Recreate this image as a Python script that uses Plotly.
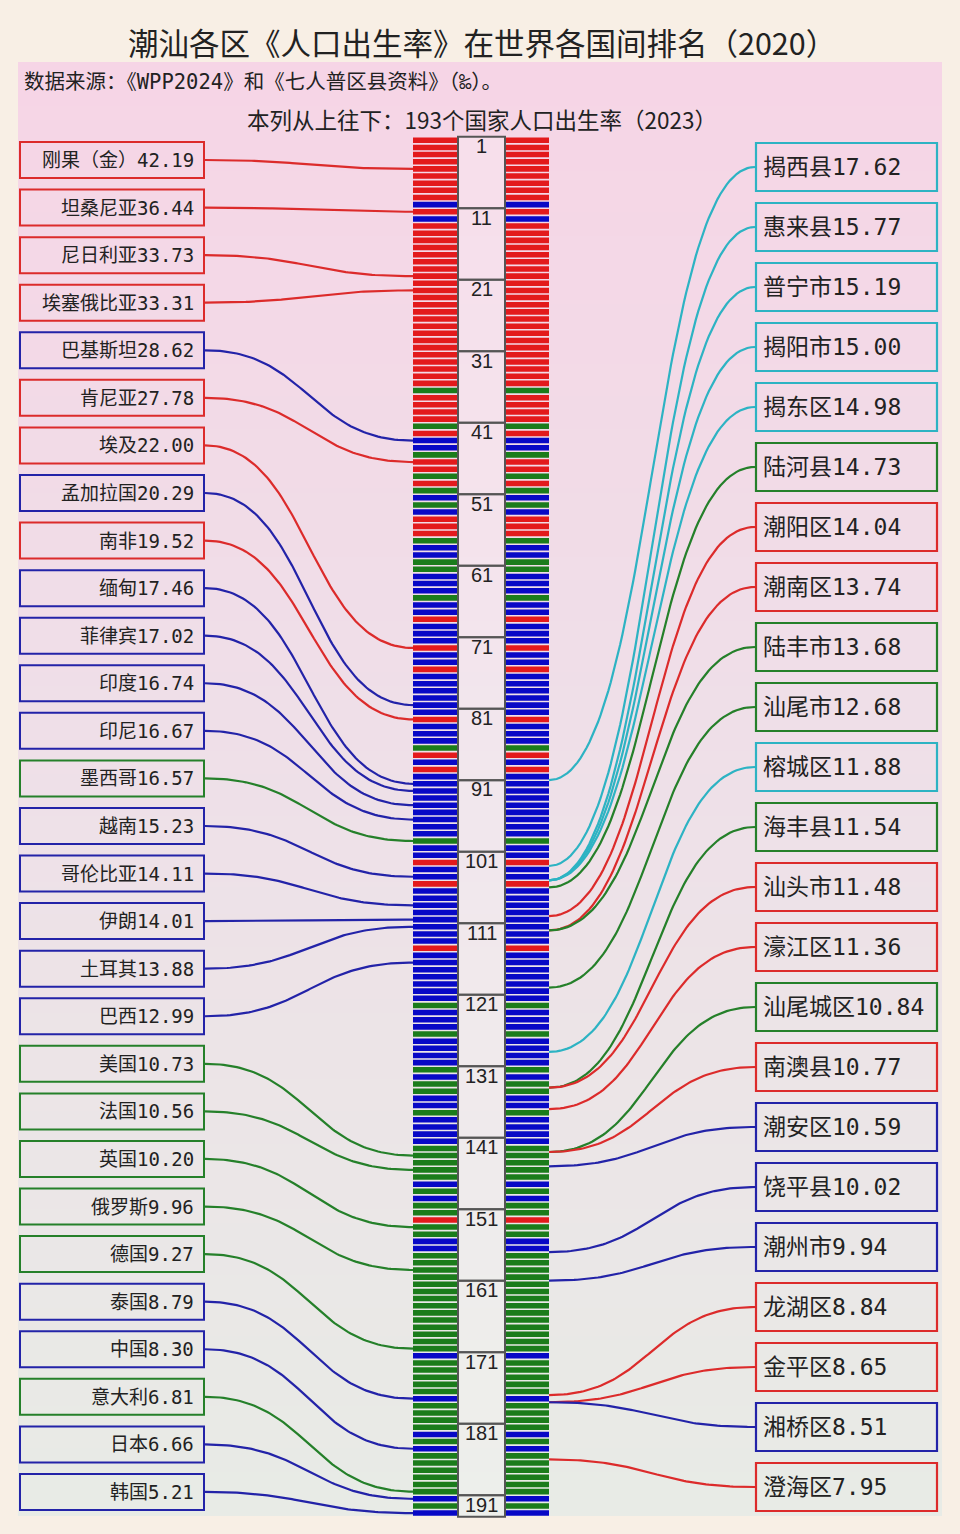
import numpy as np
import plotly.graph_objects as go

# ---------------- data ----------------
title_text = "潮汕各区《人口出生率》在世界各国间排名（2020）"
source_text = "数据来源：《WPP2024》和《七人普区县资料》（‰）。"
column_text = "本列从上往下：193个国家人口出生率（2023）"

countries = ["刚果（金）", "坦桑尼亚", "尼日利亚", "埃塞俄比亚", "巴基斯坦", "肯尼亚", "埃及",
             "孟加拉国", "南非", "缅甸", "菲律宾", "印度", "印尼", "墨西哥", "越南", "哥伦比亚",
             "伊朗", "土耳其", "巴西", "美国", "法国", "英国", "俄罗斯", "德国", "泰国", "中国",
             "意大利", "日本", "韩国"]
country_rates = [42.19, 36.44, 33.73, 33.31, 28.62, 27.78, 22.00, 20.29, 19.52, 17.46, 17.02,
                 16.74, 16.67, 16.57, 15.23, 14.11, 14.01, 13.88, 12.99, 10.73, 10.56, 10.20,
                 9.96, 9.27, 8.79, 8.30, 6.81, 6.66, 5.21]
country_ranks = [5, 11, 20, 22, 43, 46, 72, 80, 82, 91, 92, 94, 96, 99, 104, 108, 110, 111, 116,
                 143, 145, 153, 159, 170, 177, 184, 190, 191, 193]

districts = ["揭西县", "惠来县", "普宁市", "揭阳市", "揭东区", "陆河县", "潮阳区", "潮南区", "陆丰市",
             "汕尾市", "榕城区", "海丰县", "汕头市", "濠江区", "汕尾城区", "南澳县", "潮安区", "饶平县",
             "潮州市", "龙湖区", "金平区", "湘桥区", "澄海区"]
district_rates = [17.62, 15.77, 15.19, 15.00, 14.98, 14.73, 14.04, 13.74, 13.68, 12.68, 11.88,
                  11.54, 11.48, 11.36, 10.84, 10.77, 10.59, 10.02, 9.94, 8.84, 8.65, 8.51, 7.95]
# rank position among the 193 countries (line points to the top edge of this rank)
district_ranks = [91, 103, 105, 105, 105, 106, 110, 112, 112, 120, 129, 134, 134, 137, 143, 143,
                  145, 157, 161, 177, 178, 178, 186]
district_cities = ["揭阳", "揭阳", "揭阳", "揭阳", "揭阳", "汕尾", "汕头", "汕头", "汕尾", "汕尾", "揭阳",
                   "汕尾", "汕头", "汕头", "汕尾", "汕头", "潮州", "潮州", "潮州", "汕头", "汕头", "潮州", "汕头"]

# colour group of each of the 193 ranked countries (R / B / G), ranks 1..193
stripe_groups = ("RRRRRRRRRB" "RBRRRRRRRR" "RRRRRRRRRR" "RRRRRGRRRR" "GRBBGRRGRG"
                 "BGBRRRGBBG" "GBBBGBBRBB" "BRBBRBBBBB" "BRBBBGRBRB" "BBBBBBBBGB"
                 "BRBBRBBBBB" "BBBRBBBBBB" "BGBBBGBBBB" "GBGGBBGBBB" "BGGGGGBGBG"
                 "GRGGBBGGGG" "GGGGGGGGGG" "BGGGGGBGGG" "GBGBGGGGGG" "BGB")
rank_ticks = list(range(1, 194, 10))

# ---------------- styles ----------------
STRIPE = {"R": "#e31a1c", "B": "#0808c6", "G": "#1b7c1b"}
LINE = {"R": "#dc2b2b", "B": "#2323a8", "G": "#25802a"}
CITY = {"揭阳": "#2db3c3", "汕尾": "#25802a", "汕头": "#dc2b2b", "潮州": "#2323a8"}
LABEL_FONT = "DejaVu Sans Mono, Noto Sans CJK SC"
CJK_FONT = "Noto Sans CJK SC"

Y0, PX = 136.7, 7.15          # pixel of rank-boundary 0 and pixels per rank


def pos(px):
    return (px - Y0) / PX


def bezier(x0, y0, x1, y1, k=0.5, n=80):
    t = np.linspace(0, 1, n)
    dx = x1 - x0
    cx0, cx1 = x0 + k * dx, x1 - k * dx
    x = (1 - t) ** 3 * x0 + 3 * (1 - t) ** 2 * t * cx0 + 3 * (1 - t) * t ** 2 * cx1 + t ** 3 * x1
    y = (1 - t) ** 3 * y0 + 3 * (1 - t) ** 2 * t * y0 + 3 * (1 - t) * t ** 2 * y1 + t ** 3 * y1
    return x, y


fig = go.Figure()

# background panel with vertical gradient (heatmap sits below bars)
ptop, pbot = pos(62), pos(1516)
nb = 60
y_edges = np.linspace(ptop, pbot, nb + 1)
grad = np.linspace(0, 1, nb)
fig.add_trace(go.Heatmap(
    z=np.column_stack([grad, grad]), x=[18, 480, 942], y=y_edges,
    colorscale=[[0, "#f6d5e6"], [0.45, "#efdfe8"], [1, "#e8ebe6"]],
    showscale=False, hoverinfo="skip", zsmooth="best"))

# stripes (193 countries)
ranks = np.arange(1, len(stripe_groups) + 1)
stripe_colors = [STRIPE[g] for g in stripe_groups]
for base, w in ((413, 45), (505, 44)):
    fig.add_trace(go.Bar(orientation="h", y=ranks - 0.5, x=[w] * len(ranks), base=base,
                         width=0.78, marker=dict(color=stripe_colors, line=dict(width=0)),
                         hoverinfo="skip", showlegend=False))

# central rank boxes
for r in rank_ticks:
    end = min(r + 9, len(stripe_groups))
    fig.add_shape(type="rect", xref="x", yref="y", x0=458, x1=505, y0=r - 1, y1=end,
                  line=dict(color="#555555", width=2), fillcolor="rgba(255,255,255,0.22)")
    fig.add_annotation(x=481.5, y=r - 1 + 1.3, text=str(r), showarrow=False,
                       font=dict(family="Liberation Sans, Arial", size=20, color="#222"),
                       xanchor="center", yanchor="middle")

# left boxes: countries
for i, (name, rate, rk) in enumerate(zip(countries, country_rates, country_ranks)):
    cy = pos(160 + i * 47.57)
    g = stripe_groups[rk - 1]
    col = LINE[g]
    fig.add_shape(type="rect", xref="x", yref="y", x0=20, x1=204,
                  y0=cy - 18 / PX, y1=cy + 18 / PX, line=dict(color=col, width=2),
                  fillcolor="rgba(255,255,255,0)")
    fig.add_annotation(x=196, y=cy, text=f"{name}{rate:.2f}", showarrow=False,
                       xanchor="right", yanchor="middle",
                       font=dict(family=LABEL_FONT, size=19, color="#222"))
    bx, by = bezier(205, cy, 413, rk - 0.5)
    fig.add_trace(go.Scatter(x=bx, y=by, mode="lines", line=dict(color=col, width=2.2),
                             hoverinfo="skip", showlegend=False))

# right boxes: districts
for i, (name, rate, rk, city) in enumerate(zip(districts, district_rates, district_ranks,
                                               district_cities)):
    cy = pos(167 + i * 60)
    col = CITY[city]
    fig.add_shape(type="rect", xref="x", yref="y", x0=756, x1=937,
                  y0=cy - 24 / PX, y1=cy + 24 / PX, line=dict(color=col, width=2.2),
                  fillcolor="rgba(255,255,255,0)")
    fig.add_annotation(x=761, y=cy, text=f"{name}{rate:.2f}", showarrow=False,
                       xanchor="left", yanchor="middle",
                       font=dict(family=LABEL_FONT, size=23, color="#222"))
    bx, by = bezier(549, rk - 1, 755, cy)
    fig.add_trace(go.Scatter(x=bx, y=by, mode="lines", line=dict(color=col, width=2.2),
                             hoverinfo="skip", showlegend=False))

# titles
fig.add_annotation(x=482, y=pos(42), text=title_text, showarrow=False, xanchor="center",
                   yanchor="middle", font=dict(family=CJK_FONT, size=30.5, color="#222"))
fig.add_annotation(x=22, y=pos(82), text=source_text, showarrow=False, xanchor="left",
                   yanchor="middle", font=dict(family=LABEL_FONT, size=20.5, color="#222"))
fig.add_annotation(x=482, y=pos(119), text=column_text, showarrow=False, xanchor="center",
                   yanchor="middle", font=dict(family=CJK_FONT, size=22.5, color="#222"))

fig.update_layout(
    width=960, height=1534, margin=dict(l=0, r=0, t=0, b=0),
    paper_bgcolor="#f8efe5", plot_bgcolor="rgba(0,0,0,0)",
    barmode="overlay", showlegend=False,
    xaxis=dict(range=[0, 960], visible=False, fixedrange=True),
    yaxis=dict(range=[pos(1534), pos(0)], visible=False, fixedrange=True),
)

fig.write_html("out.html", config={"displayModeBar": False},
               post_script="document.body.style.margin='0';document.body.style.padding='0';")
